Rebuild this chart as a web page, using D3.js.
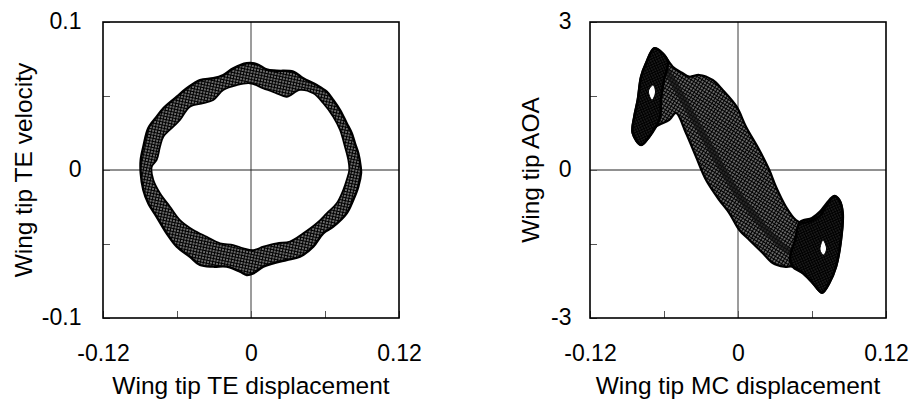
<!DOCTYPE html>
<html>
<head>
<meta charset="utf-8">
<script src="https://cdn.jsdelivr.net/npm/d3@7"></script>
<style>
  html, body { margin: 0; padding: 0; background: #fff; }
  svg { display: block; font-family: "Liberation Sans", Arial, Helvetica, sans-serif; }
</style>
</head>
<body>
<svg id="chart" width="913" height="400"></svg>
<script>
// ---- Left panel: wing tip TE displacement vs. velocity (band of orbits) ----
const teOuter = [
  [-0.0894, 0.0068], [-0.0873, 0.0157], [-0.0833, 0.0282], [-0.0765, 0.0360],
  [-0.0711, 0.0417], [-0.0602, 0.0495], [-0.0521, 0.0552], [-0.0414, 0.0608],
  [-0.0306, 0.0620], [-0.0225, 0.0642], [-0.0144, 0.0687], [-0.0035, 0.0721],
  [0.0046, 0.0716], [0.0127, 0.0680], [0.0208, 0.0671], [0.0343, 0.0664],
  [0.0424, 0.0620], [0.0533, 0.0574], [0.0614, 0.0529], [0.0667, 0.0473],
  [0.0722, 0.0405], [0.0776, 0.0316], [0.0817, 0.0248], [0.0843, 0.0180],
  [0.0870, 0.0113], [0.0889, 0.0022], [0.0892, -0.0022], [0.0870, -0.0113],
  [0.0829, -0.0203], [0.0776, -0.0293], [0.0667, -0.0383], [0.0586, -0.0428],
  [0.0505, -0.0518], [0.0397, -0.0586], [0.0289, -0.0608], [0.0181, -0.0630],
  [0.0100, -0.0653], [0.0019, -0.0698], [-0.0035, -0.0709], [-0.0089, -0.0687],
  [-0.0197, -0.0653], [-0.0306, -0.0653], [-0.0414, -0.0642], [-0.0495, -0.0586],
  [-0.0602, -0.0518], [-0.0684, -0.0428], [-0.0765, -0.0316], [-0.0833, -0.0225],
  [-0.0873, -0.0135], [-0.0894, -0.0022]
];
const teInner = [
  [-0.0805, 0.0022], [-0.0765, 0.0068], [-0.0738, 0.0157], [-0.0711, 0.0225],
  [-0.0630, 0.0293], [-0.0576, 0.0338], [-0.0495, 0.0428], [-0.0387, 0.0451],
  [-0.0306, 0.0473], [-0.0225, 0.0541], [-0.0116, 0.0574], [-0.0008, 0.0586],
  [0.0100, 0.0552], [0.0208, 0.0518], [0.0289, 0.0495], [0.0397, 0.0541],
  [0.0505, 0.0518], [0.0586, 0.0451], [0.0667, 0.0360], [0.0722, 0.0270],
  [0.0762, 0.0157], [0.0789, 0.0068], [0.0797, 0.0000], [0.0776, -0.0068],
  [0.0748, -0.0135], [0.0695, -0.0225], [0.0614, -0.0293], [0.0533, -0.0360],
  [0.0424, -0.0428], [0.0316, -0.0484], [0.0208, -0.0495], [0.0100, -0.0518],
  [0.0019, -0.0541], [-0.0062, -0.0529], [-0.0144, -0.0507], [-0.0251, -0.0495],
  [-0.0359, -0.0451], [-0.0468, -0.0405], [-0.0576, -0.0338], [-0.0657, -0.0248],
  [-0.0738, -0.0157], [-0.0792, -0.0068]
];

// ---- Right panel: wing tip MC displacement vs. AOA ----
const aoaEnvelope = [
  [-0.0679, 2.467], [-0.0611, 2.366], [-0.0529, 2.094], [-0.0448, 1.960],
  [-0.0395, 1.891], [-0.0314, 1.926], [-0.0205, 1.824], [-0.0124, 1.622],
  [-0.0011, 1.283], [0.0065, 0.878], [0.0173, 0.405], [0.0254, 0.000],
  [0.0308, -0.339], [0.0389, -0.744], [0.0470, -1.014], [0.0525, -1.074],
  [0.0659, -0.947], [0.0714, -0.744], [0.0781, -0.527], [0.0821, -0.608],
  [0.0849, -0.872], [0.0835, -1.419], [0.0795, -1.960], [0.0740, -2.291],
  [0.0681, -2.487], [0.0606, -2.291], [0.0525, -2.088], [0.0444, -1.960],
  [0.0375, -1.960], [0.0281, -1.885], [0.0200, -1.683], [0.0092, -1.419],
  [0.0011, -1.216], [-0.0071, -0.872], [-0.0152, -0.608], [-0.0259, -0.203],
  [-0.0341, 0.270], [-0.0422, 0.750], [-0.0503, 1.155], [-0.0557, 1.014],
  [-0.0665, 0.878], [-0.0719, 0.675], [-0.0786, 0.507], [-0.0854, 0.750],
  [-0.0841, 1.081], [-0.0813, 1.419], [-0.0786, 1.891], [-0.0746, 2.163]
];
const aoaLobeUpper = [
  [-0.0679, 2.467], [-0.0611, 2.366], [-0.0568, 2.189], [-0.0600, 1.824],
  [-0.0624, 1.419], [-0.0632, 1.054], [-0.0665, 0.878], [-0.0719, 0.675],
  [-0.0786, 0.507], [-0.0854, 0.750], [-0.0841, 1.081], [-0.0813, 1.419],
  [-0.0786, 1.891], [-0.0746, 2.163]
];
const aoaLobeLower = [
  [0.0503, -1.054], [0.0600, -0.973], [0.0665, -0.845], [0.0719, -0.675],
  [0.0781, -0.527], [0.0821, -0.608], [0.0849, -0.872], [0.0835, -1.419],
  [0.0795, -1.960], [0.0740, -2.291], [0.0681, -2.487], [0.0606, -2.291],
  [0.0525, -2.088], [0.0444, -1.960], [0.0422, -1.784], [0.0462, -1.419]
];
const aoaStrand = [
  [-0.0608, 2.128], [-0.0511, 1.723], [-0.0389, 1.176], [-0.0268, 0.649],
  [-0.0146, 0.101], [-0.0024, -0.405], [0.0097, -0.811], [0.0243, -1.257],
  [0.0422, -1.662], [0.0551, -1.743]
];
const aoaHoleUpper = [[-0.0689, 1.723], [-0.0669, 1.581], [-0.0697, 1.419], [-0.0726, 1.601]];
const aoaHoleLower = [[0.0689, -1.419], [0.0718, -1.601], [0.0694, -1.723], [0.0665, -1.622]];

// ---- Axis ticks and labels ----
const xTicks = [-0.12, -0.06, 0, 0.06, 0.12];
const xTickLabels = ["-0.12", "", "0", "", "0.12"];
const teYTicks = [-0.1, -0.05, 0, 0.05, 0.1];
const teYTickLabels = ["-0.1", "", "0", "", "0.1"];
const aoaYTicks = [-3, -1.5, 0, 1.5, 3];
const aoaYTickLabels = ["-3", "", "0", "", "3"];

const svg = d3.select("#chart");
svg.append("rect").attr("width", 913).attr("height", 400).attr("fill", "#fff");
const defs = svg.append("defs");

// Cross-hatched fill that reads like many overlapping orbit lines
function meshPattern(id, size, width, angle, base) {
  const p = defs.append("pattern")
    .attr("id", id)
    .attr("patternUnits", "userSpaceOnUse")
    .attr("width", size).attr("height", size)
    .attr("patternTransform", `rotate(${angle})`);
  if (base) p.append("rect").attr("width", size).attr("height", size).attr("fill", base);
  const h = size / 2;
  p.append("path")
    .attr("d", `M0,${h}H${size}M${h},0V${size}`)
    .attr("stroke", "#000").attr("stroke-width", width).attr("fill", "none");
}
meshPattern("meshTE", 3, 1.1, 12, "#707070");
meshPattern("meshAOA", 3, 1.1, 32, "#6c6c6c");
meshPattern("meshDense", 2.6, 1.2, -25, "#2a2a2a");

const SIZE = 296, TOP = 22;

function panel(cfg) {
  const g = svg.append("g");
  const x = d3.scaleLinear().domain([-0.12, 0.12]).range([cfg.left, cfg.left + SIZE]);
  const y = d3.scaleLinear().domain(cfg.yDomain).range([TOP + SIZE, TOP]);

  // zero lines
  g.append("line").attr("x1", x(0)).attr("x2", x(0)).attr("y1", TOP).attr("y2", TOP + SIZE)
    .attr("stroke", "#3a3a3a").attr("stroke-width", 1);
  g.append("line").attr("x1", cfg.left).attr("x2", cfg.left + SIZE).attr("y1", y(0)).attr("y2", y(0))
    .attr("stroke", "#222").attr("stroke-width", 1);

  const marks = g.append("g");
  cfg.draw(marks, x, y);

  // axes with inward ticks
  const xa = g.append("g").attr("transform", `translate(0,${TOP + SIZE})`)
    .call(d3.axisBottom(x).tickValues(xTicks).tickSizeInner(-7).tickSizeOuter(0)
      .tickPadding(27).tickFormat((d, i) => xTickLabels[i]));
  const ya = g.append("g").attr("transform", `translate(${cfg.left},0)`)
    .call(d3.axisLeft(y).tickValues(cfg.yTicks).tickSizeInner(-7).tickSizeOuter(0)
      .tickPadding(cfg.yPad).tickFormat((d, i) => cfg.yLabels[i]));
  [xa, ya].forEach(a => {
    a.select(".domain").remove();
    a.selectAll("line").attr("stroke", "#555");
    a.selectAll("text").attr("font-size", 23).attr("fill", "#000")
      .attr("font-family", '"Liberation Sans", Arial, sans-serif');
  });
  ya.selectAll("text").attr("dy", "0.30em");

  // frame
  g.append("rect").attr("x", cfg.left).attr("y", TOP).attr("width", SIZE).attr("height", SIZE)
    .attr("fill", "none").attr("stroke", "#000").attr("stroke-width", 1.6);

  // titles
  g.append("text").attr("x", cfg.left + SIZE / 2).attr("y", 394)
    .attr("text-anchor", "middle").attr("font-size", 24.5).text(cfg.xTitle);
  g.append("text").attr("transform", `translate(${cfg.yTitleX},${TOP + SIZE / 2}) rotate(-90)`)
    .attr("text-anchor", "middle").attr("font-size", 24.5).text(cfg.yTitle);
}

panel({
  left: 103,
  yDomain: [-0.1, 0.1],
  yTicks: teYTicks, yLabels: teYTickLabels, yPad: 21.5,
  xTitle: "Wing tip TE displacement", yTitle: "Wing tip TE velocity", yTitleX: 32,
  draw(g, x, y) {
    const line = d3.line().x(d => x(d[0])).y(d => y(d[1])).curve(d3.curveCatmullRomClosed);
    const ringPath = line(teOuter) + line(teInner);
    g.append("path").attr("d", ringPath).attr("fill", "url(#meshTE)").attr("fill-rule", "evenodd");
    g.append("path").attr("d", line(teOuter)).attr("fill", "none")
      .attr("stroke", "#000").attr("stroke-width", 2.4).attr("stroke-linejoin", "round");
    g.append("path").attr("d", line(teInner)).attr("fill", "none")
      .attr("stroke", "#000").attr("stroke-width", 1.8).attr("stroke-linejoin", "round");
  }
});

panel({
  left: 590,
  yDomain: [-3, 3],
  yTicks: aoaYTicks, yLabels: aoaYTickLabels, yPad: 18.5,
  xTitle: "Wing tip MC displacement", yTitle: "Wing tip AOA", yTitleX: 539,
  draw(g, x, y) {
    const closed = d3.line().x(d => x(d[0])).y(d => y(d[1])).curve(d3.curveCatmullRomClosed);
    const open = d3.line().x(d => x(d[0])).y(d => y(d[1])).curve(d3.curveCatmullRom);
    g.append("path").attr("d", closed(aoaEnvelope)).attr("fill", "url(#meshAOA)");
    g.append("path").attr("d", open(aoaStrand)).attr("fill", "none")
      .attr("stroke", "#111").attr("stroke-width", 7).attr("stroke-opacity", 0.7)
      .attr("stroke-linecap", "round");
    [aoaLobeUpper, aoaLobeLower].forEach(lobe => {
      g.append("path").attr("d", closed(lobe)).attr("fill", "url(#meshDense)")
        .attr("stroke", "#000").attr("stroke-width", 2.5).attr("stroke-linejoin", "round");
    });
    g.append("path").attr("d", closed(aoaEnvelope)).attr("fill", "none")
      .attr("stroke", "#000").attr("stroke-width", 2.2).attr("stroke-linejoin", "round");
    [aoaHoleUpper, aoaHoleLower].forEach(h => {
      g.append("path").attr("d", closed(h)).attr("fill", "#fff")
        .attr("stroke", "#000").attr("stroke-width", 1);
    });
  }
});
</script>
</body>
</html>
